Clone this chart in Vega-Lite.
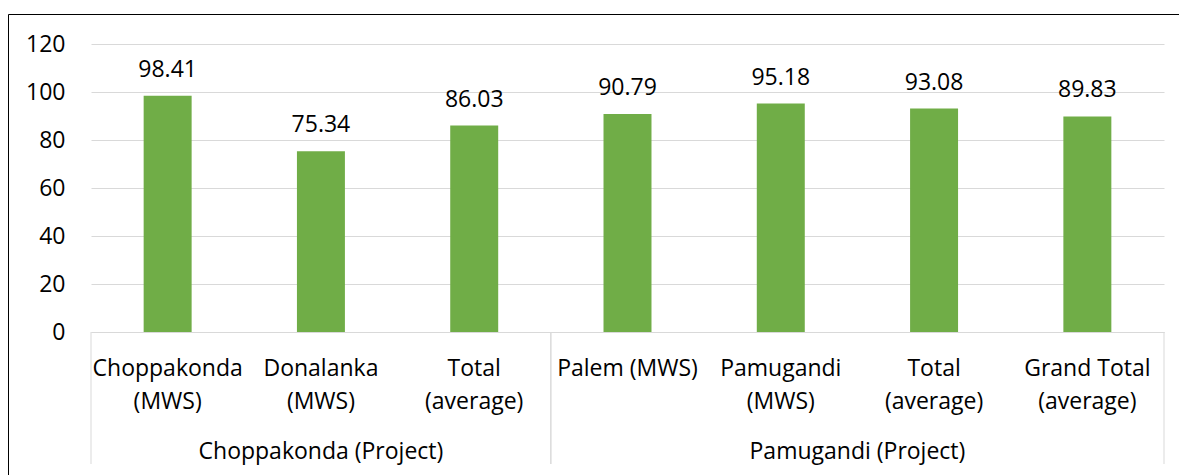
{
  "$schema": "https://vega.github.io/schema/vega-lite/v6.json",
  "autosize": {"type": "none"},
  "padding": {"left": 8, "top": 14, "right": -1, "bottom": -1},
  "width": 1172,
  "height": 462,
  "config": {
    "view": {"stroke": "#000000", "strokeWidth": 1},
    "font": "Open Sans",
    "text": {"font": "Open Sans"}
  },
  "datasets": {
    "bars": [
      {"key": "1|Choppakonda|(MWS)", "project": "Choppakonda (Project)", "value": 98.41},
      {"key": "2|Donalanka|(MWS)", "project": "Choppakonda (Project)", "value": 75.34},
      {"key": "3|Total|(average)", "project": "Choppakonda (Project)", "value": 86.03},
      {"key": "4|Palem (MWS)", "project": "Pamugandi (Project)", "value": 90.79},
      {"key": "5|Pamugandi|(MWS)", "project": "Pamugandi (Project)", "value": 95.18},
      {"key": "6|Total|(average)", "project": "Pamugandi (Project)", "value": 93.08},
      {"key": "7|Grand Total|(average)", "project": "Pamugandi (Project)", "value": 89.83}
    ],
    "groups": [
      {"project": "Choppakonda (Project)", "first": "1|Choppakonda|(MWS)", "last": "3|Total|(average)", "anchor": "2|Donalanka|(MWS)"},
      {"project": "Pamugandi (Project)", "first": "4|Palem (MWS)", "last": "7|Grand Total|(average)", "anchor": "5|Pamugandi|(MWS)"}
    ]
  },
  "layer": [
    {
      "data": {"name": "bars"},
      "mark": {"type": "bar", "color": "#70AD47", "width": {"band": 0.313}},
      "encoding": {
        "x": {
          "field": "key", "type": "nominal", "sort": null,
          "scale": {"domain": ["1|Choppakonda|(MWS)", "2|Donalanka|(MWS)", "3|Total|(average)", "4|Palem (MWS)", "5|Pamugandi|(MWS)", "6|Total|(average)", "7|Grand Total|(average)"], "range": [83, 1156], "paddingInner": 0, "paddingOuter": 0},
          "axis": {
            "title": null, "labelExpr": "slice(split(datum.value, '|'), 1)", "ticks": false,
            "domainColor": "#D9D9D9", "labelFontSize": 23, "labelColor": "#000000",
            "labelPadding": 25, "labelLineHeight": 33, "offset": -144, "labelAngle": 0,
            "labelBaseline": "top", "labelOverlap": false, "grid": false, "labelFont": "Open Sans"
          }
        },
        "y": {
          "field": "value", "type": "quantitative",
          "scale": {"domain": [0, 120], "range": [318, 30], "nice": false},
          "axis": {
            "title": null, "values": [0, 20, 40, 60, 80, 100, 120], "grid": true,
            "gridColor": "#D9D9D9", "domain": false, "ticks": false, "labelFontSize": 23,
            "labelColor": "#000000", "labelPadding": 26, "offset": -83, "labelFont": "Open Sans"
          }
        }
      }
    },
    {
      "data": {"name": "bars"},
      "mark": {"type": "text", "baseline": "middle", "dy": -26, "fontSize": 23, "color": "#000000"},
      "encoding": {
        "x": {"field": "key", "type": "nominal", "sort": null,
          "scale": {"domain": ["1|Choppakonda|(MWS)", "2|Donalanka|(MWS)", "3|Total|(average)", "4|Palem (MWS)", "5|Pamugandi|(MWS)", "6|Total|(average)", "7|Grand Total|(average)"], "range": [83, 1156], "paddingInner": 0, "paddingOuter": 0}},
        "y": {"field": "value", "type": "quantitative", "scale": {"domain": [0, 120], "range": [318, 30], "nice": false}},
        "text": {"field": "value", "type": "quantitative", "format": ".2f"}
      }
    },
    {
      "data": {"name": "groups"},
      "mark": {"type": "rule", "color": "#D9D9D9", "strokeWidth": 1},
      "encoding": {
        "x": {"field": "first", "type": "nominal", "bandPosition": 0, "sort": null,
          "scale": {"domain": ["1|Choppakonda|(MWS)", "2|Donalanka|(MWS)", "3|Total|(average)", "4|Palem (MWS)", "5|Pamugandi|(MWS)", "6|Total|(average)", "7|Grand Total|(average)"], "range": [83, 1156], "paddingInner": 0, "paddingOuter": 0}},
        "y": {"datum": 0, "type": "quantitative", "scale": {"domain": [0, 120], "range": [318, 30], "nice": false}},
        "y2": {"datum": -55}
      }
    },
    {
      "data": {"name": "groups"},
      "mark": {"type": "rule", "color": "#D9D9D9", "strokeWidth": 1},
      "encoding": {
        "x": {"field": "last", "type": "nominal", "bandPosition": 1, "sort": null,
          "scale": {"domain": ["1|Choppakonda|(MWS)", "2|Donalanka|(MWS)", "3|Total|(average)", "4|Palem (MWS)", "5|Pamugandi|(MWS)", "6|Total|(average)", "7|Grand Total|(average)"], "range": [83, 1156], "paddingInner": 0, "paddingOuter": 0}},
        "y": {"datum": 0, "type": "quantitative", "scale": {"domain": [0, 120], "range": [318, 30], "nice": false}},
        "y2": {"datum": -55}
      }
    },
    {
      "data": {"name": "groups"},
      "transform": [{"filter": "datum.project == 'Choppakonda (Project)'"}],
      "mark": {"type": "text", "baseline": "middle", "fontSize": 23, "color": "#000000"},
      "encoding": {
        "x": {"field": "anchor", "type": "nominal", "bandPosition": 0.5, "sort": null,
          "scale": {"domain": ["1|Choppakonda|(MWS)", "2|Donalanka|(MWS)", "3|Total|(average)", "4|Palem (MWS)", "5|Pamugandi|(MWS)", "6|Total|(average)", "7|Grand Total|(average)"], "range": [83, 1156], "paddingInner": 0, "paddingOuter": 0}},
        "y": {"datum": -50, "type": "quantitative", "scale": {"domain": [0, 120], "range": [318, 30], "nice": false}},
        "text": {"field": "project", "type": "nominal"}
      }
    },
    {
      "data": {"name": "groups"},
      "transform": [{"filter": "datum.project == 'Pamugandi (Project)'"}],
      "mark": {"type": "text", "baseline": "middle", "fontSize": 23, "color": "#000000"},
      "encoding": {
        "x": {"field": "anchor", "type": "nominal", "bandPosition": 1, "sort": null,
          "scale": {"domain": ["1|Choppakonda|(MWS)", "2|Donalanka|(MWS)", "3|Total|(average)", "4|Palem (MWS)", "5|Pamugandi|(MWS)", "6|Total|(average)", "7|Grand Total|(average)"], "range": [83, 1156], "paddingInner": 0, "paddingOuter": 0}},
        "y": {"datum": -50, "type": "quantitative", "scale": {"domain": [0, 120], "range": [318, 30], "nice": false}},
        "text": {"field": "project", "type": "nominal"}
      }
    }
  ]
}
